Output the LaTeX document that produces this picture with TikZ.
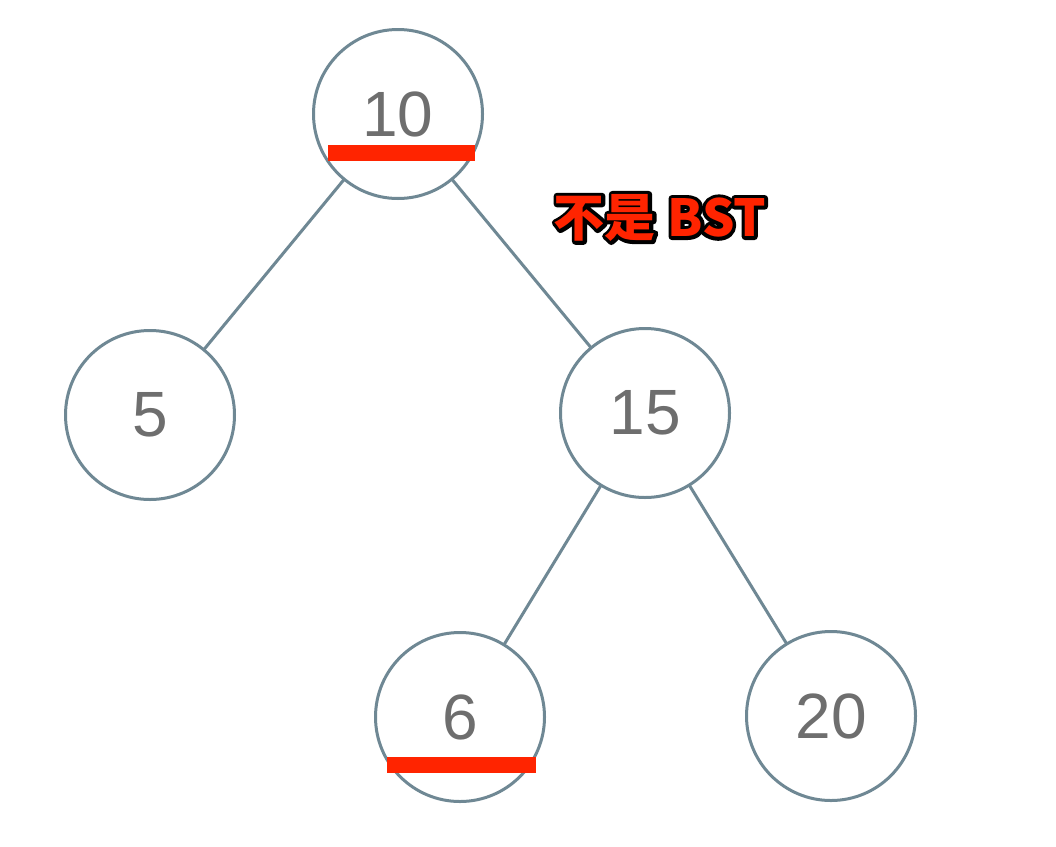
\documentclass[tikz,border=0pt]{standalone}
\usepackage{fontspec}
\usetikzlibrary{calc}
\setmainfont{Liberation Sans}
\newfontfamily\cjkfont{Noto Sans CJK SC}
\definecolor{edgecol}{HTML}{6F8894}
\definecolor{numcol}{HTML}{6E6E6E}
\definecolor{markred}{HTML}{FF2400}
\begin{document}
\begin{tikzpicture}[x=1pt,y=-1pt,
  treenode/.style={circle,draw=edgecol,line width=3pt,fill=white,minimum size=169pt,inner sep=0pt,text=numcol,font=\fontsize{64}{64}\selectfont},
  treeedge/.style={draw=edgecol,line width=3pt},
  redbar/.style={fill=markred,draw=none},
  outlinetext/.style={text=black,font=\cjkfont\bfseries\fontsize{51}{51}\selectfont,inner sep=0pt},
  labeltext/.style={text=markred,font=\cjkfont\bfseries\fontsize{51}{51}\selectfont,inner sep=0pt}]
\useasboundingbox (0,0) rectangle (1056,846);
\fill[white] (0,0) rectangle (1056,846);
% edges
\coordinate (c10) at (398,114);
\coordinate (c5) at (150,415);
\coordinate (c15) at (645,413);
\coordinate (c6) at (460,717);
\coordinate (c20) at (831,716);
\draw[treeedge] (c10) -- (c5);
\draw[treeedge] (c10) -- (c15);
\draw[treeedge] (c15) -- (c6);
\draw[treeedge] (c15) -- (c20);
% nodes
\node[treenode] (n10) at (c10) {10};
\node[treenode] (n5) at (c5) {5};
\node[treenode] (n15) at (c15) {15};
\node[treenode] (n6) at (c6) {6};
\node[treenode] (n20) at (c20) {20};
% red bars
\fill[redbar] (328,145) rectangle (475,161);
\fill[redbar] (387,757) rectangle (536,773);
% label with outline
\node[outlinetext] (lbo) at (660,218) {\special{pdf:literal 2 Tr 7 w 1 j}不是 BST\special{pdf:literal 0 Tr 1 w}};
\node[labeltext] (lbl) at (660,218) {不是 BST};
\end{tikzpicture}
\end{document}
